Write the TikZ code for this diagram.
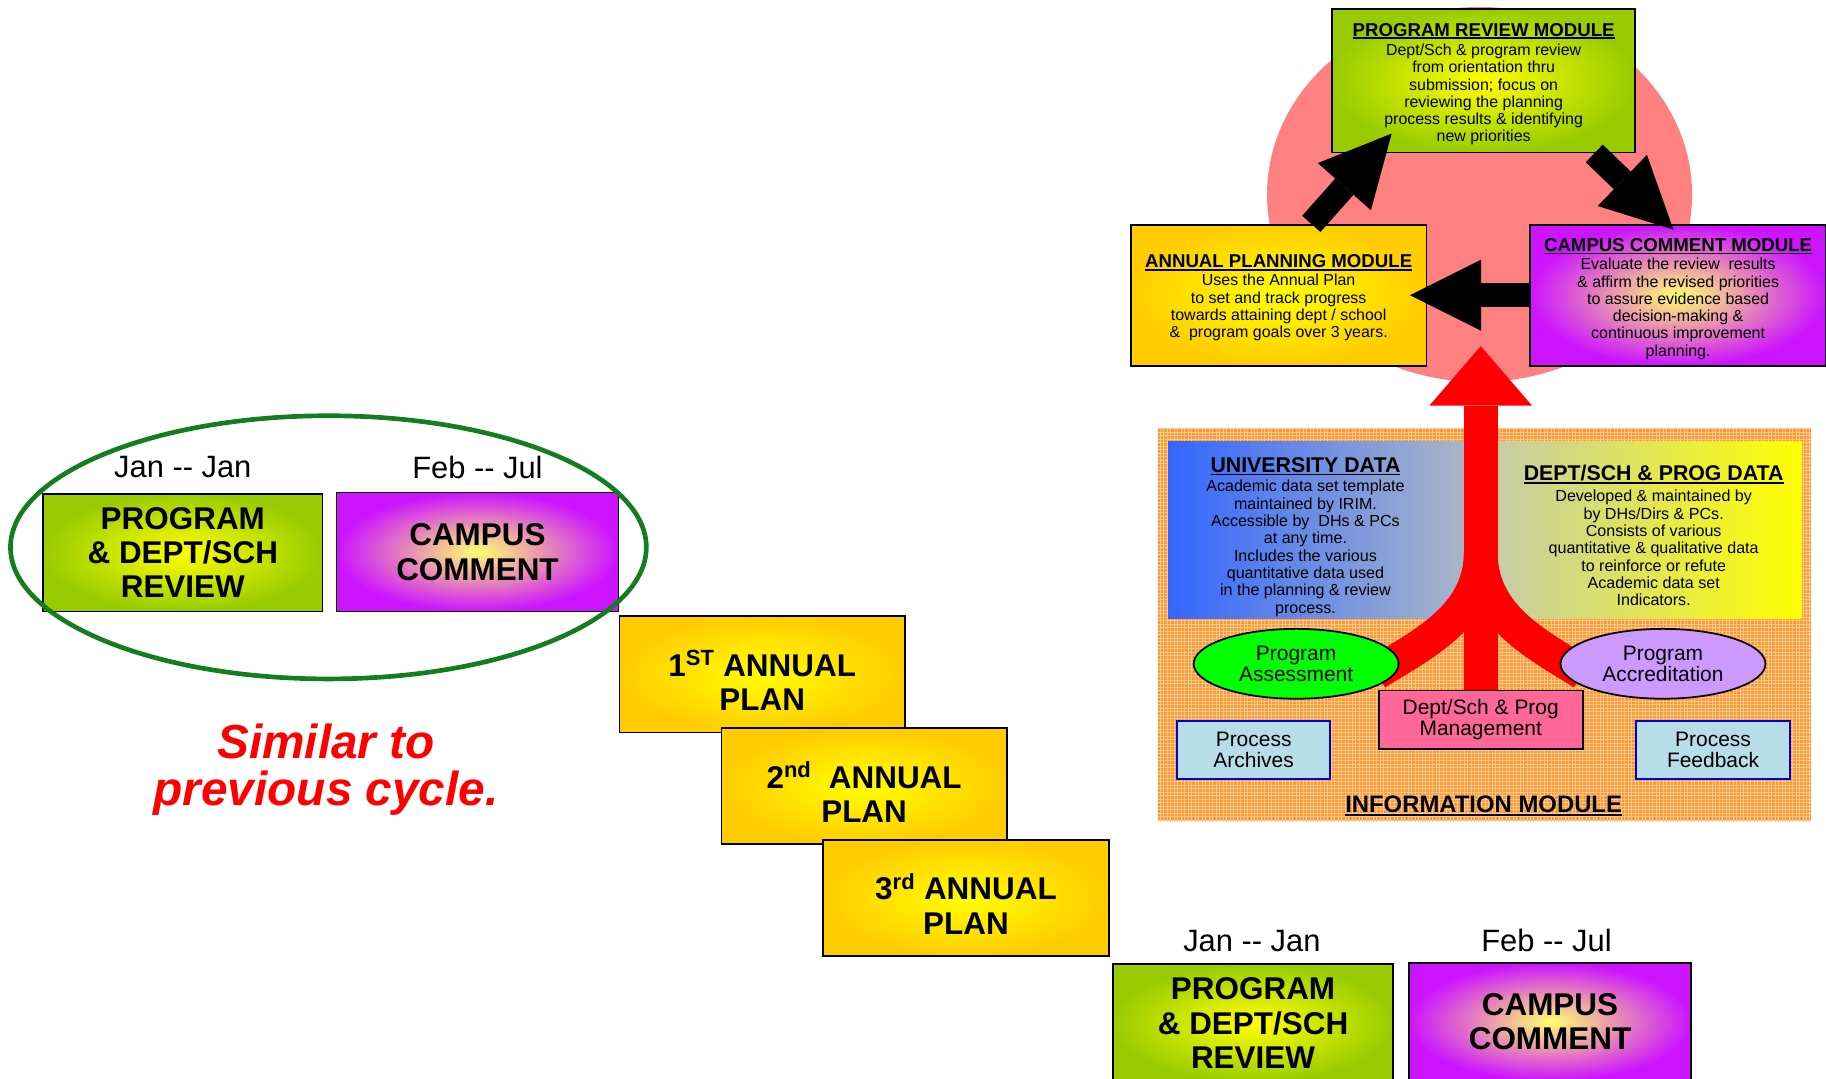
\documentclass[tikz,border=0pt]{standalone}
\usepackage{fontspec}
\setmainfont{Liberation Sans}
\usepackage{tikz}
\usetikzlibrary{calc}
\usetikzlibrary{arrows.meta}
\usetikzlibrary{shapes.geometric}
\usetikzlibrary{patterns}

\definecolor{reviewgreen}{RGB}{153,204,0}
\definecolor{plangold}{RGB}{255,204,0}
\definecolor{commentpurple}{RGB}{204,20,255}
\definecolor{glowyellow}{RGB}{255,255,0}
\definecolor{paleglow}{RGB}{255,255,110}
\definecolor{cyclepink}{RGB}{255,128,128}
\definecolor{infoorange}{RGB}{255,153,51}
\definecolor{infogrid}{RGB}{255,200,140}
\definecolor{univblue}{RGB}{51,102,255}
\definecolor{univgray}{RGB}{172,184,198}
\definecolor{deptgray}{RGB}{196,204,170}
\definecolor{deptyellow}{RGB}{255,255,0}
\definecolor{assessgreen}{RGB}{0,255,0}
\definecolor{accredlilac}{RGB}{204,153,255}
\definecolor{mgmtpink}{RGB}{255,102,153}
\definecolor{procfill}{RGB}{183,222,232}
\definecolor{procblue}{RGB}{0,0,204}
\definecolor{ovalgreen}{RGB}{20,125,30}

\pgfdeclarelayer{back}
\pgfdeclarelayer{mid}
\pgfsetlayers{back,mid,main}

% underlined heading with a heavier rule
\newcommand{\headline}[1]{\setbox0=\hbox{#1}\rlap{\rule[-0.16em]{\wd0}{0.09em}}\box0}
\newcommand{\modhead}[1]{{\bfseries\fontsize{16}{17}\selectfont\headline{#1}}}
\newcommand{\datahead}[1]{{\bfseries\fontsize{18.3}{19}\selectfont\headline{#1}}}
\newcommand{\toppad}[1]{\rule{0pt}{#1}}

\tikzset{
  stagebox/.style={draw=black, line width=1.5, inner sep=0, align=center,
    minimum width=245, minimum height=100,
    font=\bfseries\fontsize{27}{29.5}\selectfont},
  reviewfill/.style={shading=radial, inner color=glowyellow, outer color=reviewgreen},
  planfill/.style={shading=radial, inner color=glowyellow, outer color=plangold},
  commentfill/.style={shading=radial, inner color=paleglow, outer color=commentpurple},
  modulebox/.style={draw=black, line width=1.5, inner sep=0, align=center,
    font=\fontsize{13.7}{14.8}\selectfont},
  datelabel/.style={font=\fontsize{26.5}{30}\selectfont},
  similarnote/.style={text=red, align=center,
    font=\bfseries\itshape\fontsize{41}{40}\selectfont},
  datatext/.style={align=center, font=\fontsize{13.8}{14.9}\selectfont},
  ovalnode/.style={ellipse, draw=black, line width=1.5, minimum width=176,
    minimum height=60, inner sep=0, align=center, font=\fontsize{18}{18}\selectfont},
  infobox/.style={line width=1.5, inner sep=0, align=center,
    font=\fontsize{18}{18}\selectfont},
  blockarrow/.style={line width=21, -{Triangle[length=61pt, width=61pt, line width=0pt]}},
  redtrunk/.style={red, line width=29, -{Triangle[length=51pt, width=88pt, line width=0pt]}},
  redbranch/.style={red, line width=29},
}

\begin{document}
\begin{tikzpicture}[x=1pt,y=-1pt]
\useasboundingbox (0,0) rectangle (1568,926);

% previous cycle
\node[datelabel] (oldjan) at (157,401) {Jan -{}- Jan};
\node[datelabel] (oldfeb) at (410,401) {Feb -{}- Jul};
\node[stagebox,reviewfill,minimum width=240,minimum height=101] (oldreview) at (157,474.5) {PROGRAM\\\& DEPT/SCH\\REVIEW};
\node[stagebox,commentfill,minimum width=242,minimum height=102] (oldcomment) at (410,474) {CAMPUS\\COMMENT};
\node[ellipse,draw=ovalgreen,line width=4,minimum width=546,minimum height=226] (oldcycle) at (282,470) {};
\node[similarnote] (similar) at (280,661) {Similar to\\previous cycle.};

% annual plans
\node[stagebox,planfill] (plan1) at (654.5,579) {\toppad{33pt}1\textsuperscript{ST} ANNUAL\\PLAN};
\node[stagebox,planfill] (plan2) at (742,675) {\toppad{33pt}2\textsuperscript{nd}\ \ ANNUAL\\PLAN};
\node[stagebox,planfill] (plan3) at (829.5,771) {\toppad{33pt}3\textsuperscript{rd} ANNUAL\\PLAN};

% next cycle
\node[datelabel] (newjan) at (1075,808) {Jan -{}- Jan};
\node[datelabel] (newfeb) at (1328,808) {Feb -{}- Jul};
\node[stagebox,reviewfill,minimum width=240,minimum height=101] (newreview) at (1076,878.5) {PROGRAM\\\& DEPT/SCH\\REVIEW};
\node[stagebox,commentfill,minimum width=242,minimum height=101] (newcomment) at (1331,877.5) {CAMPUS\\COMMENT};

% backgrounds
\begin{pgfonlayer}{back}
\fill[cyclepink] (1270.5,167) ellipse [x radius=182.5, y radius=161];
\fill[infoorange] (994,368) rectangle (1555,705);
\fill[pattern=grid,pattern color=infogrid] (994,368) rectangle (1555,705);
\shade[left color=univblue,right color=univgray] (1003,379) rectangle (1265,531);
\shade[left color=deptgray,right color=deptyellow] (1279,379) rectangle (1547,531);
\end{pgfonlayer}

% planning cycle
\node[modulebox,reviewfill,minimum width=260,minimum height=123] (reviewmod) at (1274,69.5)
  {\toppad{16.5pt}\modhead{PROGRAM REVIEW MODULE}\\[2pt]
   Dept/Sch \& program review\\from orientation thru\\submission; focus on\\
   reviewing the planning\\process results \& identifying\\new priorities};
\node[modulebox,planfill,minimum width=254,minimum height=121] (planmod) at (1098,253.5)
  {\toppad{15.5pt}\modhead{ANNUAL PLANNING MODULE}\\[1pt]
   Uses the Annual Plan\\to set and track progress\\towards attaining dept / school\\
   \&\ \ program goals over 3 years.};
\node[modulebox,commentfill,minimum width=254,minimum height=121] (commentmod) at (1441,253.5)
  {\toppad{17.5pt}\modhead{CAMPUS COMMENT MODULE}\\[1pt]
   Evaluate the review\ \ results\\\& affirm the revised priorities\\to assure evidence based\\
   decision-making \&\\continuous improvement\\planning.};

\draw[blockarrow] ($(planmod.north)+(28,0)$) -- ($(reviewmod.south)+(-79,-17)$);
\draw[blockarrow] ($(reviewmod.south)+(95,0)$) -- ($(commentmod.north)+(-4,5)$);
\draw[blockarrow] (commentmod.west) -- ($(planmod.east)+(-15,0)$);

% information module
\node[datatext] (univdata) at (1121,461)
  {\datahead{UNIVERSITY DATA}\\[2pt]
   Academic data set template\\maintained by IRIM.\\Accessible by\ \ DHs \& PCs\\
   at any time.\\Includes the various\\quantitative data used\\in the planning \& review\\process.};
\node[datatext] (deptdata) at (1420,460)
  {\datahead{DEPT/SCH \& PROG DATA}\\[3pt]
   Developed \& maintained by\\by DHs/Dirs \& PCs.\\Consists of various\\
   quantitative \& qualitative data\\to reinforce or refute\\Academic data set\\Indicators.};
\node[ovalnode,fill=assessgreen] (assess) at (1113,570) {Program\\Assessment};
\node[ovalnode,fill=accredlilac] (accred) at (1428,570) {Program\\Accreditation};
\node[infobox,draw=black,fill=mgmtpink,minimum width=175,minimum height=50] (mgmt) at (1271.5,618) {Dept/Sch \& Prog\\Management};
\node[infobox,draw=procblue,fill=procfill,minimum width=131,minimum height=50] (archives) at (1076.5,644) {Process\\Archives};
\node[infobox,draw=procblue,fill=procfill,minimum width=132,minimum height=50] (feedback) at (1471,644) {Process\\Feedback};
\node[font=\bfseries\fontsize{20.5}{22}\selectfont] (infotitle) at (1274,692) {\headline{INFORMATION MODULE}};

\begin{pgfonlayer}{mid}
\coordinate (fork) at ($(mgmt.north)+(0,-118)$);
\draw[redtrunk] (mgmt.north) -- ++(0,-295);
\draw[redbranch] (fork) .. controls +(0,55) and +(40,-25) .. ($(assess.east)+(-20,8)$);
\draw[redbranch] (fork) .. controls +(0,55) and +(-40,-25) .. ($(accred.west)+(20,8)$);
\end{pgfonlayer}

\end{tikzpicture}
\end{document}
